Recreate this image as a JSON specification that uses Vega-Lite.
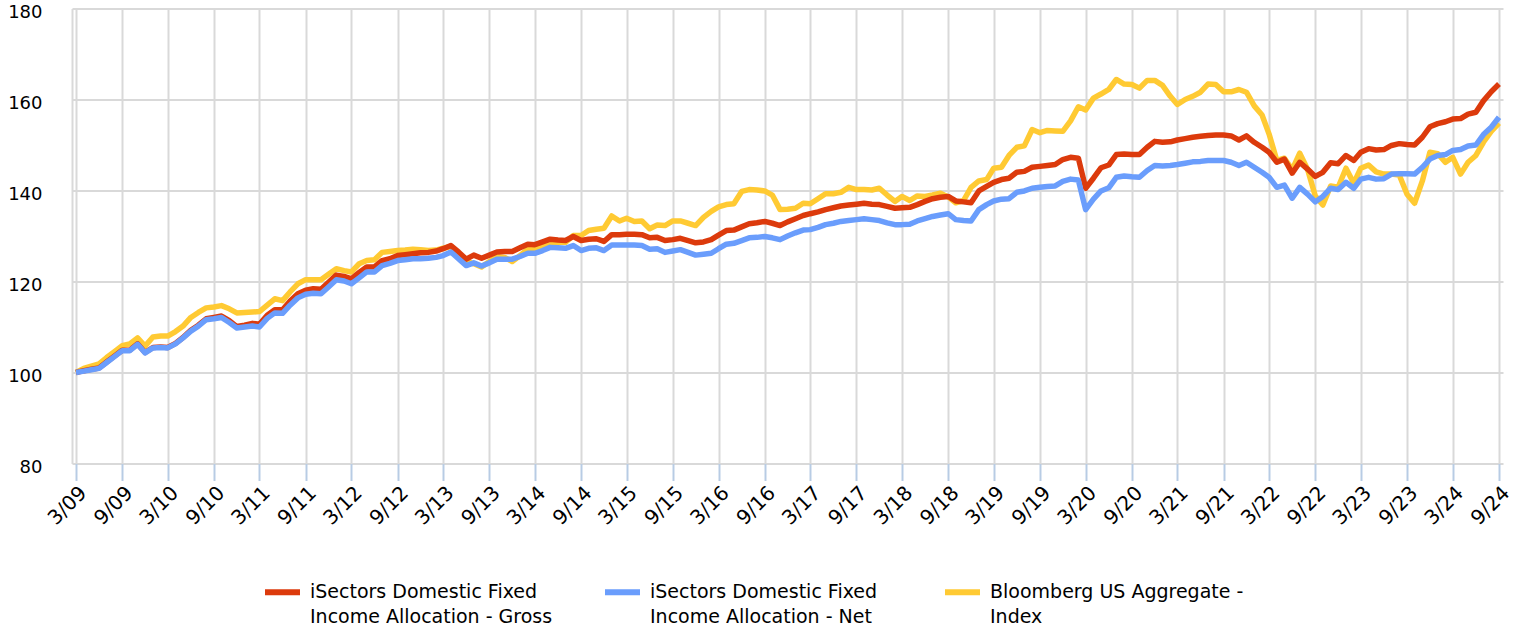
{
  "$schema": "https://vega.github.io/schema/vega-lite/v6.json",
  "width": 1431,
  "height": 455,
  "autosize": {"type": "none"},
  "padding": {"left": 72, "top": 8.5, "right": 14, "bottom": 166.5},
  "background": "white",
  "config": {"view": {"stroke": null}, "font": "DejaVu Sans"},
  "data": {"values": [
{"date":"2009-03-01","series":"Index","value":100.0},{"date":"2009-04-01","series":"Index","value":100.9},{"date":"2009-05-01","series":"Index","value":101.4},{"date":"2009-06-01","series":"Index","value":101.9},{"date":"2009-07-01","series":"Index","value":103.3},{"date":"2009-08-01","series":"Index","value":104.6},{"date":"2009-09-01","series":"Index","value":105.9},{"date":"2009-10-01","series":"Index","value":106.3},{"date":"2009-11-01","series":"Index","value":107.6},{"date":"2009-12-01","series":"Index","value":105.8},
{"date":"2010-01-01","series":"Index","value":107.8},{"date":"2010-02-01","series":"Index","value":108.0},{"date":"2010-03-01","series":"Index","value":108.0},{"date":"2010-04-01","series":"Index","value":109.0},{"date":"2010-05-01","series":"Index","value":110.2},{"date":"2010-06-01","series":"Index","value":112.1},{"date":"2010-07-01","series":"Index","value":113.2},{"date":"2010-08-01","series":"Index","value":114.2},{"date":"2010-09-01","series":"Index","value":114.4},{"date":"2010-10-01","series":"Index","value":114.7},{"date":"2010-11-01","series":"Index","value":114.0},{"date":"2010-12-01","series":"Index","value":113.1},
{"date":"2011-01-01","series":"Index","value":113.2},{"date":"2011-02-01","series":"Index","value":113.3},{"date":"2011-03-01","series":"Index","value":113.4},{"date":"2011-04-01","series":"Index","value":114.8},{"date":"2011-05-01","series":"Index","value":116.2},{"date":"2011-06-01","series":"Index","value":115.8},{"date":"2011-07-01","series":"Index","value":117.7},{"date":"2011-08-01","series":"Index","value":119.5},{"date":"2011-09-01","series":"Index","value":120.4},{"date":"2011-10-01","series":"Index","value":120.4},{"date":"2011-11-01","series":"Index","value":120.4},{"date":"2011-12-01","series":"Index","value":121.6},
{"date":"2012-01-01","series":"Index","value":122.8},{"date":"2012-02-01","series":"Index","value":122.4},{"date":"2012-03-01","series":"Index","value":122.1},{"date":"2012-04-01","series":"Index","value":123.9},{"date":"2012-05-01","series":"Index","value":124.6},{"date":"2012-06-01","series":"Index","value":124.8},{"date":"2012-07-01","series":"Index","value":126.4},{"date":"2012-08-01","series":"Index","value":126.6},{"date":"2012-09-01","series":"Index","value":126.8},{"date":"2012-10-01","series":"Index","value":126.9},{"date":"2012-11-01","series":"Index","value":127.1},{"date":"2012-12-01","series":"Index","value":127.0},
{"date":"2013-01-01","series":"Index","value":126.8},{"date":"2013-02-01","series":"Index","value":126.9},{"date":"2013-03-01","series":"Index","value":127.3},{"date":"2013-04-01","series":"Index","value":127.7},{"date":"2013-05-01","series":"Index","value":125.9},{"date":"2013-06-01","series":"Index","value":124.4},{"date":"2013-07-01","series":"Index","value":123.9},{"date":"2013-08-01","series":"Index","value":123.2},{"date":"2013-09-01","series":"Index","value":124.4},{"date":"2013-10-01","series":"Index","value":125.5},{"date":"2013-11-01","series":"Index","value":125.3},{"date":"2013-12-01","series":"Index","value":124.4},
{"date":"2014-01-01","series":"Index","value":125.7},{"date":"2014-02-01","series":"Index","value":127.1},{"date":"2014-03-01","series":"Index","value":127.1},{"date":"2014-04-01","series":"Index","value":127.9},{"date":"2014-05-01","series":"Index","value":128.7},{"date":"2014-06-01","series":"Index","value":128.6},{"date":"2014-07-01","series":"Index","value":128.6},{"date":"2014-08-01","series":"Index","value":130.1},{"date":"2014-09-01","series":"Index","value":130.1},{"date":"2014-10-01","series":"Index","value":131.2},{"date":"2014-11-01","series":"Index","value":131.5},{"date":"2014-12-01","series":"Index","value":131.7},
{"date":"2015-01-01","series":"Index","value":134.4},{"date":"2015-02-01","series":"Index","value":133.3},{"date":"2015-03-01","series":"Index","value":133.9},{"date":"2015-04-01","series":"Index","value":133.2},{"date":"2015-05-01","series":"Index","value":133.3},{"date":"2015-06-01","series":"Index","value":131.6},{"date":"2015-07-01","series":"Index","value":132.4},{"date":"2015-08-01","series":"Index","value":132.3},{"date":"2015-09-01","series":"Index","value":133.3},{"date":"2015-10-01","series":"Index","value":133.3},{"date":"2015-11-01","series":"Index","value":132.8},{"date":"2015-12-01","series":"Index","value":132.3},
{"date":"2016-01-01","series":"Index","value":134.1},{"date":"2016-02-01","series":"Index","value":135.4},{"date":"2016-03-01","series":"Index","value":136.4},{"date":"2016-04-01","series":"Index","value":136.9},{"date":"2016-05-01","series":"Index","value":137.1},{"date":"2016-06-01","series":"Index","value":139.8},{"date":"2016-07-01","series":"Index","value":140.2},{"date":"2016-08-01","series":"Index","value":140.1},{"date":"2016-09-01","series":"Index","value":139.9},{"date":"2016-10-01","series":"Index","value":139.0},{"date":"2016-11-01","series":"Index","value":135.8},{"date":"2016-12-01","series":"Index","value":135.9},
{"date":"2017-01-01","series":"Index","value":136.1},{"date":"2017-02-01","series":"Index","value":137.2},{"date":"2017-03-01","series":"Index","value":137.1},{"date":"2017-04-01","series":"Index","value":138.2},{"date":"2017-05-01","series":"Index","value":139.3},{"date":"2017-06-01","series":"Index","value":139.3},{"date":"2017-07-01","series":"Index","value":139.6},{"date":"2017-08-01","series":"Index","value":140.7},{"date":"2017-09-01","series":"Index","value":140.2},{"date":"2017-10-01","series":"Index","value":140.2},{"date":"2017-11-01","series":"Index","value":140.1},{"date":"2017-12-01","series":"Index","value":140.5},
{"date":"2018-01-01","series":"Index","value":139.0},{"date":"2018-02-01","series":"Index","value":137.6},{"date":"2018-03-01","series":"Index","value":138.7},{"date":"2018-04-01","series":"Index","value":137.8},{"date":"2018-05-01","series":"Index","value":138.8},{"date":"2018-06-01","series":"Index","value":138.7},{"date":"2018-07-01","series":"Index","value":139.0},{"date":"2018-08-01","series":"Index","value":139.4},{"date":"2018-09-01","series":"Index","value":138.6},{"date":"2018-10-01","series":"Index","value":137.3},{"date":"2018-11-01","series":"Index","value":137.8},{"date":"2018-12-01","series":"Index","value":140.7},
{"date":"2019-01-01","series":"Index","value":142.1},{"date":"2019-02-01","series":"Index","value":142.4},{"date":"2019-03-01","series":"Index","value":144.9},{"date":"2019-04-01","series":"Index","value":145.1},{"date":"2019-05-01","series":"Index","value":147.7},{"date":"2019-06-01","series":"Index","value":149.5},{"date":"2019-07-01","series":"Index","value":149.8},{"date":"2019-08-01","series":"Index","value":153.4},{"date":"2019-09-01","series":"Index","value":152.7},{"date":"2019-10-01","series":"Index","value":153.2},{"date":"2019-11-01","series":"Index","value":153.1},{"date":"2019-12-01","series":"Index","value":153.0},
{"date":"2020-01-01","series":"Index","value":155.3},{"date":"2020-02-01","series":"Index","value":158.4},{"date":"2020-03-01","series":"Index","value":157.7},{"date":"2020-04-01","series":"Index","value":160.3},{"date":"2020-05-01","series":"Index","value":161.2},{"date":"2020-06-01","series":"Index","value":162.2},{"date":"2020-07-01","series":"Index","value":164.4},{"date":"2020-08-01","series":"Index","value":163.4},{"date":"2020-09-01","series":"Index","value":163.3},{"date":"2020-10-01","series":"Index","value":162.5},{"date":"2020-11-01","series":"Index","value":164.2},{"date":"2020-12-01","series":"Index","value":164.2},
{"date":"2021-01-01","series":"Index","value":163.1},{"date":"2021-02-01","series":"Index","value":160.7},{"date":"2021-03-01","series":"Index","value":158.9},{"date":"2021-04-01","series":"Index","value":160.0},{"date":"2021-05-01","series":"Index","value":160.7},{"date":"2021-06-01","series":"Index","value":161.6},{"date":"2021-07-01","series":"Index","value":163.4},{"date":"2021-08-01","series":"Index","value":163.3},{"date":"2021-09-01","series":"Index","value":161.7},{"date":"2021-10-01","series":"Index","value":161.7},{"date":"2021-11-01","series":"Index","value":162.2},{"date":"2021-12-01","series":"Index","value":161.6},
{"date":"2022-01-01","series":"Index","value":158.6},{"date":"2022-02-01","series":"Index","value":156.6},{"date":"2022-03-01","series":"Index","value":152.4},{"date":"2022-04-01","series":"Index","value":146.6},{"date":"2022-05-01","series":"Index","value":147.1},{"date":"2022-06-01","series":"Index","value":144.6},{"date":"2022-07-01","series":"Index","value":148.2},{"date":"2022-08-01","series":"Index","value":144.7},{"date":"2022-09-01","series":"Index","value":138.8},{"date":"2022-10-01","series":"Index","value":136.8},{"date":"2022-11-01","series":"Index","value":141.0},{"date":"2022-12-01","series":"Index","value":140.7},
{"date":"2023-01-01","series":"Index","value":144.9},{"date":"2023-02-01","series":"Index","value":141.6},{"date":"2023-03-01","series":"Index","value":144.9},{"date":"2023-04-01","series":"Index","value":145.6},{"date":"2023-05-01","series":"Index","value":144.1},{"date":"2023-06-01","series":"Index","value":143.6},{"date":"2023-07-01","series":"Index","value":143.6},{"date":"2023-08-01","series":"Index","value":143.4},{"date":"2023-09-01","series":"Index","value":139.2},{"date":"2023-10-01","series":"Index","value":137.2},{"date":"2023-11-01","series":"Index","value":142.1},{"date":"2023-12-01","series":"Index","value":148.4},
{"date":"2024-01-01","series":"Index","value":148.1},{"date":"2024-02-01","series":"Index","value":146.2},{"date":"2024-03-01","series":"Index","value":147.3},{"date":"2024-04-01","series":"Index","value":143.6},{"date":"2024-05-01","series":"Index","value":146.2},{"date":"2024-06-01","series":"Index","value":147.7},{"date":"2024-07-01","series":"Index","value":150.6},{"date":"2024-08-01","series":"Index","value":153.0},{"date":"2024-09-01","series":"Index","value":154.8},
{"date":"2009-03-01","series":"Gross","value":100.0},{"date":"2009-04-01","series":"Gross","value":100.4},{"date":"2009-05-01","series":"Gross","value":100.7},{"date":"2009-06-01","series":"Gross","value":101.0},{"date":"2009-07-01","series":"Gross","value":102.3},{"date":"2009-08-01","series":"Gross","value":103.6},{"date":"2009-09-01","series":"Gross","value":104.9},{"date":"2009-10-01","series":"Gross","value":104.9},{"date":"2009-11-01","series":"Gross","value":106.3},{"date":"2009-12-01","series":"Gross","value":104.4},
{"date":"2010-01-01","series":"Gross","value":105.5},{"date":"2010-02-01","series":"Gross","value":105.6},{"date":"2010-03-01","series":"Gross","value":105.5},{"date":"2010-04-01","series":"Gross","value":106.4},{"date":"2010-05-01","series":"Gross","value":107.7},{"date":"2010-06-01","series":"Gross","value":109.3},{"date":"2010-07-01","series":"Gross","value":110.4},{"date":"2010-08-01","series":"Gross","value":111.8},{"date":"2010-09-01","series":"Gross","value":112.1},{"date":"2010-10-01","series":"Gross","value":112.4},{"date":"2010-11-01","series":"Gross","value":111.4},{"date":"2010-12-01","series":"Gross","value":110.1},
{"date":"2011-01-01","series":"Gross","value":110.4},{"date":"2011-02-01","series":"Gross","value":110.8},{"date":"2011-03-01","series":"Gross","value":110.6},{"date":"2011-04-01","series":"Gross","value":112.6},{"date":"2011-05-01","series":"Gross","value":113.8},{"date":"2011-06-01","series":"Gross","value":113.8},{"date":"2011-07-01","series":"Gross","value":115.7},{"date":"2011-08-01","series":"Gross","value":117.3},{"date":"2011-09-01","series":"Gross","value":118.1},{"date":"2011-10-01","series":"Gross","value":118.4},{"date":"2011-11-01","series":"Gross","value":118.3},{"date":"2011-12-01","series":"Gross","value":119.8},
{"date":"2012-01-01","series":"Gross","value":121.4},{"date":"2012-02-01","series":"Gross","value":121.1},{"date":"2012-03-01","series":"Gross","value":120.6},{"date":"2012-04-01","series":"Gross","value":122.0},{"date":"2012-05-01","series":"Gross","value":123.2},{"date":"2012-06-01","series":"Gross","value":123.2},{"date":"2012-07-01","series":"Gross","value":124.6},{"date":"2012-08-01","series":"Gross","value":125.0},{"date":"2012-09-01","series":"Gross","value":125.7},{"date":"2012-10-01","series":"Gross","value":125.9},{"date":"2012-11-01","series":"Gross","value":126.1},{"date":"2012-12-01","series":"Gross","value":126.3},
{"date":"2013-01-01","series":"Gross","value":126.4},{"date":"2013-02-01","series":"Gross","value":126.7},{"date":"2013-03-01","series":"Gross","value":127.2},{"date":"2013-04-01","series":"Gross","value":127.9},{"date":"2013-05-01","series":"Gross","value":126.5},{"date":"2013-06-01","series":"Gross","value":124.9},{"date":"2013-07-01","series":"Gross","value":125.8},{"date":"2013-08-01","series":"Gross","value":125.1},{"date":"2013-09-01","series":"Gross","value":125.8},{"date":"2013-10-01","series":"Gross","value":126.5},{"date":"2013-11-01","series":"Gross","value":126.6},{"date":"2013-12-01","series":"Gross","value":126.6},
{"date":"2014-01-01","series":"Gross","value":127.4},{"date":"2014-02-01","series":"Gross","value":128.2},{"date":"2014-03-01","series":"Gross","value":128.1},{"date":"2014-04-01","series":"Gross","value":128.7},{"date":"2014-05-01","series":"Gross","value":129.3},{"date":"2014-06-01","series":"Gross","value":129.1},{"date":"2014-07-01","series":"Gross","value":129.0},{"date":"2014-08-01","series":"Gross","value":129.9},{"date":"2014-09-01","series":"Gross","value":129.0},{"date":"2014-10-01","series":"Gross","value":129.3},{"date":"2014-11-01","series":"Gross","value":129.4},{"date":"2014-12-01","series":"Gross","value":128.8},
{"date":"2015-01-01","series":"Gross","value":130.3},{"date":"2015-02-01","series":"Gross","value":130.3},{"date":"2015-03-01","series":"Gross","value":130.4},{"date":"2015-04-01","series":"Gross","value":130.4},{"date":"2015-05-01","series":"Gross","value":130.3},{"date":"2015-06-01","series":"Gross","value":129.6},{"date":"2015-07-01","series":"Gross","value":129.7},{"date":"2015-08-01","series":"Gross","value":129.0},{"date":"2015-09-01","series":"Gross","value":129.2},{"date":"2015-10-01","series":"Gross","value":129.5},{"date":"2015-11-01","series":"Gross","value":129.0},{"date":"2015-12-01","series":"Gross","value":128.5},
{"date":"2016-01-01","series":"Gross","value":128.7},{"date":"2016-02-01","series":"Gross","value":129.2},{"date":"2016-03-01","series":"Gross","value":130.2},{"date":"2016-04-01","series":"Gross","value":131.2},{"date":"2016-05-01","series":"Gross","value":131.3},{"date":"2016-06-01","series":"Gross","value":132.0},{"date":"2016-07-01","series":"Gross","value":132.7},{"date":"2016-08-01","series":"Gross","value":132.9},{"date":"2016-09-01","series":"Gross","value":133.2},{"date":"2016-10-01","series":"Gross","value":132.8},{"date":"2016-11-01","series":"Gross","value":132.3},{"date":"2016-12-01","series":"Gross","value":133.1},
{"date":"2017-01-01","series":"Gross","value":133.8},{"date":"2017-02-01","series":"Gross","value":134.5},{"date":"2017-03-01","series":"Gross","value":134.9},{"date":"2017-04-01","series":"Gross","value":135.3},{"date":"2017-05-01","series":"Gross","value":135.8},{"date":"2017-06-01","series":"Gross","value":136.2},{"date":"2017-07-01","series":"Gross","value":136.6},{"date":"2017-08-01","series":"Gross","value":136.8},{"date":"2017-09-01","series":"Gross","value":137.0},{"date":"2017-10-01","series":"Gross","value":137.2},{"date":"2017-11-01","series":"Gross","value":137.0},{"date":"2017-12-01","series":"Gross","value":136.9},
{"date":"2018-01-01","series":"Gross","value":136.5},{"date":"2018-02-01","series":"Gross","value":136.1},{"date":"2018-03-01","series":"Gross","value":136.2},{"date":"2018-04-01","series":"Gross","value":136.3},{"date":"2018-05-01","series":"Gross","value":136.9},{"date":"2018-06-01","series":"Gross","value":137.6},{"date":"2018-07-01","series":"Gross","value":138.2},{"date":"2018-08-01","series":"Gross","value":138.5},{"date":"2018-09-01","series":"Gross","value":138.7},{"date":"2018-10-01","series":"Gross","value":137.7},{"date":"2018-11-01","series":"Gross","value":137.5},{"date":"2018-12-01","series":"Gross","value":137.3},
{"date":"2019-01-01","series":"Gross","value":139.9},{"date":"2019-02-01","series":"Gross","value":140.9},{"date":"2019-03-01","series":"Gross","value":141.8},{"date":"2019-04-01","series":"Gross","value":142.4},{"date":"2019-05-01","series":"Gross","value":142.7},{"date":"2019-06-01","series":"Gross","value":144.0},{"date":"2019-07-01","series":"Gross","value":144.2},{"date":"2019-08-01","series":"Gross","value":145.1},{"date":"2019-09-01","series":"Gross","value":145.3},{"date":"2019-10-01","series":"Gross","value":145.5},{"date":"2019-11-01","series":"Gross","value":145.7},{"date":"2019-12-01","series":"Gross","value":146.8},
{"date":"2020-01-01","series":"Gross","value":147.3},{"date":"2020-02-01","series":"Gross","value":147.1},{"date":"2020-03-01","series":"Gross","value":140.5},{"date":"2020-04-01","series":"Gross","value":142.7},{"date":"2020-05-01","series":"Gross","value":145.0},{"date":"2020-06-01","series":"Gross","value":145.6},{"date":"2020-07-01","series":"Gross","value":147.9},{"date":"2020-08-01","series":"Gross","value":148.0},{"date":"2020-09-01","series":"Gross","value":147.9},{"date":"2020-10-01","series":"Gross","value":147.9},{"date":"2020-11-01","series":"Gross","value":149.5},{"date":"2020-12-01","series":"Gross","value":150.8},
{"date":"2021-01-01","series":"Gross","value":150.6},{"date":"2021-02-01","series":"Gross","value":150.7},{"date":"2021-03-01","series":"Gross","value":151.1},{"date":"2021-04-01","series":"Gross","value":151.4},{"date":"2021-05-01","series":"Gross","value":151.7},{"date":"2021-06-01","series":"Gross","value":151.9},{"date":"2021-07-01","series":"Gross","value":152.1},{"date":"2021-08-01","series":"Gross","value":152.2},{"date":"2021-09-01","series":"Gross","value":152.2},{"date":"2021-10-01","series":"Gross","value":152.0},{"date":"2021-11-01","series":"Gross","value":151.1},{"date":"2021-12-01","series":"Gross","value":152.0},
{"date":"2022-01-01","series":"Gross","value":150.6},{"date":"2022-02-01","series":"Gross","value":149.5},{"date":"2022-03-01","series":"Gross","value":148.4},{"date":"2022-04-01","series":"Gross","value":146.2},{"date":"2022-05-01","series":"Gross","value":146.9},{"date":"2022-06-01","series":"Gross","value":143.8},{"date":"2022-07-01","series":"Gross","value":146.2},{"date":"2022-08-01","series":"Gross","value":144.7},{"date":"2022-09-01","series":"Gross","value":143.1},{"date":"2022-10-01","series":"Gross","value":144.0},{"date":"2022-11-01","series":"Gross","value":146.1},{"date":"2022-12-01","series":"Gross","value":145.9},
{"date":"2023-01-01","series":"Gross","value":147.7},{"date":"2023-02-01","series":"Gross","value":146.6},{"date":"2023-03-01","series":"Gross","value":148.4},{"date":"2023-04-01","series":"Gross","value":149.2},{"date":"2023-05-01","series":"Gross","value":148.9},{"date":"2023-06-01","series":"Gross","value":149.0},{"date":"2023-07-01","series":"Gross","value":149.9},{"date":"2023-08-01","series":"Gross","value":150.3},{"date":"2023-09-01","series":"Gross","value":150.1},{"date":"2023-10-01","series":"Gross","value":150.0},{"date":"2023-11-01","series":"Gross","value":151.7},{"date":"2023-12-01","series":"Gross","value":154.0},
{"date":"2024-01-01","series":"Gross","value":154.7},{"date":"2024-02-01","series":"Gross","value":155.1},{"date":"2024-03-01","series":"Gross","value":155.7},{"date":"2024-04-01","series":"Gross","value":155.8},{"date":"2024-05-01","series":"Gross","value":156.8},{"date":"2024-06-01","series":"Gross","value":157.2},{"date":"2024-07-01","series":"Gross","value":159.7},{"date":"2024-08-01","series":"Gross","value":161.7},{"date":"2024-09-01","series":"Gross","value":163.4},
{"date":"2009-03-01","series":"Net","value":100.0},{"date":"2009-04-01","series":"Net","value":100.3},{"date":"2009-05-01","series":"Net","value":100.6},{"date":"2009-06-01","series":"Net","value":100.9},{"date":"2009-07-01","series":"Net","value":102.2},{"date":"2009-08-01","series":"Net","value":103.5},{"date":"2009-09-01","series":"Net","value":104.8},{"date":"2009-10-01","series":"Net","value":104.8},{"date":"2009-11-01","series":"Net","value":106.2},{"date":"2009-12-01","series":"Net","value":104.3},
{"date":"2010-01-01","series":"Net","value":105.4},{"date":"2010-02-01","series":"Net","value":105.5},{"date":"2010-03-01","series":"Net","value":105.4},{"date":"2010-04-01","series":"Net","value":106.3},{"date":"2010-05-01","series":"Net","value":107.6},{"date":"2010-06-01","series":"Net","value":109.1},{"date":"2010-07-01","series":"Net","value":110.2},{"date":"2010-08-01","series":"Net","value":111.6},{"date":"2010-09-01","series":"Net","value":111.8},{"date":"2010-10-01","series":"Net","value":112.1},{"date":"2010-11-01","series":"Net","value":111.0},{"date":"2010-12-01","series":"Net","value":109.8},
{"date":"2011-01-01","series":"Net","value":110.0},{"date":"2011-02-01","series":"Net","value":110.2},{"date":"2011-03-01","series":"Net","value":110.0},{"date":"2011-04-01","series":"Net","value":111.9},{"date":"2011-05-01","series":"Net","value":113.1},{"date":"2011-06-01","series":"Net","value":113.0},{"date":"2011-07-01","series":"Net","value":114.8},{"date":"2011-08-01","series":"Net","value":116.4},{"date":"2011-09-01","series":"Net","value":117.2},{"date":"2011-10-01","series":"Net","value":117.4},{"date":"2011-11-01","series":"Net","value":117.3},{"date":"2011-12-01","series":"Net","value":118.8},
{"date":"2012-01-01","series":"Net","value":120.4},{"date":"2012-02-01","series":"Net","value":120.1},{"date":"2012-03-01","series":"Net","value":119.5},{"date":"2012-04-01","series":"Net","value":120.8},{"date":"2012-05-01","series":"Net","value":122.1},{"date":"2012-06-01","series":"Net","value":122.1},{"date":"2012-07-01","series":"Net","value":123.5},{"date":"2012-08-01","series":"Net","value":124.0},{"date":"2012-09-01","series":"Net","value":124.6},{"date":"2012-10-01","series":"Net","value":124.8},{"date":"2012-11-01","series":"Net","value":125.0},{"date":"2012-12-01","series":"Net","value":125.0},
{"date":"2013-01-01","series":"Net","value":125.1},{"date":"2013-02-01","series":"Net","value":125.3},{"date":"2013-03-01","series":"Net","value":125.7},{"date":"2013-04-01","series":"Net","value":126.5},{"date":"2013-05-01","series":"Net","value":125.0},{"date":"2013-06-01","series":"Net","value":123.5},{"date":"2013-07-01","series":"Net","value":124.1},{"date":"2013-08-01","series":"Net","value":123.4},{"date":"2013-09-01","series":"Net","value":124.1},{"date":"2013-10-01","series":"Net","value":124.9},{"date":"2013-11-01","series":"Net","value":124.9},{"date":"2013-12-01","series":"Net","value":124.9},
{"date":"2014-01-01","series":"Net","value":125.5},{"date":"2014-02-01","series":"Net","value":126.2},{"date":"2014-03-01","series":"Net","value":126.2},{"date":"2014-04-01","series":"Net","value":126.8},{"date":"2014-05-01","series":"Net","value":127.5},{"date":"2014-06-01","series":"Net","value":127.4},{"date":"2014-07-01","series":"Net","value":127.3},{"date":"2014-08-01","series":"Net","value":127.9},{"date":"2014-09-01","series":"Net","value":126.8},{"date":"2014-10-01","series":"Net","value":127.3},{"date":"2014-11-01","series":"Net","value":127.4},{"date":"2014-12-01","series":"Net","value":126.8},
{"date":"2015-01-01","series":"Net","value":128.0},{"date":"2015-02-01","series":"Net","value":128.0},{"date":"2015-03-01","series":"Net","value":128.0},{"date":"2015-04-01","series":"Net","value":128.0},{"date":"2015-05-01","series":"Net","value":127.9},{"date":"2015-06-01","series":"Net","value":127.1},{"date":"2015-07-01","series":"Net","value":127.2},{"date":"2015-08-01","series":"Net","value":126.4},{"date":"2015-09-01","series":"Net","value":126.7},{"date":"2015-10-01","series":"Net","value":127.0},{"date":"2015-11-01","series":"Net","value":126.4},{"date":"2015-12-01","series":"Net","value":125.8},
{"date":"2016-01-01","series":"Net","value":126.0},{"date":"2016-02-01","series":"Net","value":126.2},{"date":"2016-03-01","series":"Net","value":127.2},{"date":"2016-04-01","series":"Net","value":128.2},{"date":"2016-05-01","series":"Net","value":128.4},{"date":"2016-06-01","series":"Net","value":129.0},{"date":"2016-07-01","series":"Net","value":129.6},{"date":"2016-08-01","series":"Net","value":129.7},{"date":"2016-09-01","series":"Net","value":129.9},{"date":"2016-10-01","series":"Net","value":129.6},{"date":"2016-11-01","series":"Net","value":129.2},{"date":"2016-12-01","series":"Net","value":130.0},
{"date":"2017-01-01","series":"Net","value":130.7},{"date":"2017-02-01","series":"Net","value":131.3},{"date":"2017-03-01","series":"Net","value":131.4},{"date":"2017-04-01","series":"Net","value":131.9},{"date":"2017-05-01","series":"Net","value":132.5},{"date":"2017-06-01","series":"Net","value":132.8},{"date":"2017-07-01","series":"Net","value":133.2},{"date":"2017-08-01","series":"Net","value":133.4},{"date":"2017-09-01","series":"Net","value":133.6},{"date":"2017-10-01","series":"Net","value":133.8},{"date":"2017-11-01","series":"Net","value":133.6},{"date":"2017-12-01","series":"Net","value":133.4},
{"date":"2018-01-01","series":"Net","value":132.9},{"date":"2018-02-01","series":"Net","value":132.5},{"date":"2018-03-01","series":"Net","value":132.5},{"date":"2018-04-01","series":"Net","value":132.6},{"date":"2018-05-01","series":"Net","value":133.3},{"date":"2018-06-01","series":"Net","value":133.8},{"date":"2018-07-01","series":"Net","value":134.3},{"date":"2018-08-01","series":"Net","value":134.6},{"date":"2018-09-01","series":"Net","value":134.9},{"date":"2018-10-01","series":"Net","value":133.6},{"date":"2018-11-01","series":"Net","value":133.4},{"date":"2018-12-01","series":"Net","value":133.3},
{"date":"2019-01-01","series":"Net","value":135.8},{"date":"2019-02-01","series":"Net","value":136.9},{"date":"2019-03-01","series":"Net","value":137.7},{"date":"2019-04-01","series":"Net","value":138.1},{"date":"2019-05-01","series":"Net","value":138.2},{"date":"2019-06-01","series":"Net","value":139.6},{"date":"2019-07-01","series":"Net","value":139.9},{"date":"2019-08-01","series":"Net","value":140.5},{"date":"2019-09-01","series":"Net","value":140.7},{"date":"2019-10-01","series":"Net","value":140.9},{"date":"2019-11-01","series":"Net","value":141.0},{"date":"2019-12-01","series":"Net","value":142.0},
{"date":"2020-01-01","series":"Net","value":142.5},{"date":"2020-02-01","series":"Net","value":142.3},{"date":"2020-03-01","series":"Net","value":135.8},{"date":"2020-04-01","series":"Net","value":138.1},{"date":"2020-05-01","series":"Net","value":139.9},{"date":"2020-06-01","series":"Net","value":140.6},{"date":"2020-07-01","series":"Net","value":142.9},{"date":"2020-08-01","series":"Net","value":143.2},{"date":"2020-09-01","series":"Net","value":143.0},{"date":"2020-10-01","series":"Net","value":142.9},{"date":"2020-11-01","series":"Net","value":144.4},{"date":"2020-12-01","series":"Net","value":145.5},
{"date":"2021-01-01","series":"Net","value":145.4},{"date":"2021-02-01","series":"Net","value":145.5},{"date":"2021-03-01","series":"Net","value":145.7},{"date":"2021-04-01","series":"Net","value":146.0},{"date":"2021-05-01","series":"Net","value":146.3},{"date":"2021-06-01","series":"Net","value":146.4},{"date":"2021-07-01","series":"Net","value":146.6},{"date":"2021-08-01","series":"Net","value":146.6},{"date":"2021-09-01","series":"Net","value":146.6},{"date":"2021-10-01","series":"Net","value":146.2},{"date":"2021-11-01","series":"Net","value":145.5},{"date":"2021-12-01","series":"Net","value":146.2},
{"date":"2022-01-01","series":"Net","value":145.1},{"date":"2022-02-01","series":"Net","value":144.0},{"date":"2022-03-01","series":"Net","value":142.9},{"date":"2022-04-01","series":"Net","value":140.7},{"date":"2022-05-01","series":"Net","value":141.2},{"date":"2022-06-01","series":"Net","value":138.3},{"date":"2022-07-01","series":"Net","value":140.7},{"date":"2022-08-01","series":"Net","value":139.2},{"date":"2022-09-01","series":"Net","value":137.5},{"date":"2022-10-01","series":"Net","value":138.7},{"date":"2022-11-01","series":"Net","value":140.5},{"date":"2022-12-01","series":"Net","value":140.2},
{"date":"2023-01-01","series":"Net","value":141.8},{"date":"2023-02-01","series":"Net","value":140.5},{"date":"2023-03-01","series":"Net","value":142.5},{"date":"2023-04-01","series":"Net","value":142.9},{"date":"2023-05-01","series":"Net","value":142.5},{"date":"2023-06-01","series":"Net","value":142.6},{"date":"2023-07-01","series":"Net","value":143.6},{"date":"2023-08-01","series":"Net","value":143.7},{"date":"2023-09-01","series":"Net","value":143.7},{"date":"2023-10-01","series":"Net","value":143.6},{"date":"2023-11-01","series":"Net","value":145.1},{"date":"2023-12-01","series":"Net","value":146.9},
{"date":"2024-01-01","series":"Net","value":147.7},{"date":"2024-02-01","series":"Net","value":147.9},{"date":"2024-03-01","series":"Net","value":148.8},{"date":"2024-04-01","series":"Net","value":149.0},{"date":"2024-05-01","series":"Net","value":149.8},{"date":"2024-06-01","series":"Net","value":150.0},{"date":"2024-07-01","series":"Net","value":152.3},{"date":"2024-08-01","series":"Net","value":153.9},{"date":"2024-09-01","series":"Net","value":156.1}
  ]},
  "mark": {"type": "line", "strokeWidth": 5.5, "strokeJoin": "round"},
  "encoding": {
    "x": {
      "field": "date", "type": "temporal",
      "scale": {"type": "utc", "padding": 4, "nice": false},
      "axis": {
        "title": null,
        "values": [
          {"year":2009,"month":3,"date":1,"utc":true},{"year":2009,"month":9,"date":1,"utc":true},
          {"year":2010,"month":3,"date":1,"utc":true},{"year":2010,"month":9,"date":1,"utc":true},
          {"year":2011,"month":3,"date":1,"utc":true},{"year":2011,"month":9,"date":1,"utc":true},
          {"year":2012,"month":3,"date":1,"utc":true},{"year":2012,"month":9,"date":1,"utc":true},
          {"year":2013,"month":3,"date":1,"utc":true},{"year":2013,"month":9,"date":1,"utc":true},
          {"year":2014,"month":3,"date":1,"utc":true},{"year":2014,"month":9,"date":1,"utc":true},
          {"year":2015,"month":3,"date":1,"utc":true},{"year":2015,"month":9,"date":1,"utc":true},
          {"year":2016,"month":3,"date":1,"utc":true},{"year":2016,"month":9,"date":1,"utc":true},
          {"year":2017,"month":3,"date":1,"utc":true},{"year":2017,"month":9,"date":1,"utc":true},
          {"year":2018,"month":3,"date":1,"utc":true},{"year":2018,"month":9,"date":1,"utc":true},
          {"year":2019,"month":3,"date":1,"utc":true},{"year":2019,"month":9,"date":1,"utc":true},
          {"year":2020,"month":3,"date":1,"utc":true},{"year":2020,"month":9,"date":1,"utc":true},
          {"year":2021,"month":3,"date":1,"utc":true},{"year":2021,"month":9,"date":1,"utc":true},
          {"year":2022,"month":3,"date":1,"utc":true},{"year":2022,"month":9,"date":1,"utc":true},
          {"year":2023,"month":3,"date":1,"utc":true},{"year":2023,"month":9,"date":1,"utc":true},
          {"year":2024,"month":3,"date":1,"utc":true},{"year":2024,"month":9,"date":1,"utc":true}
        ],
        "labelExpr": "utcFormat(datum.value, '%-m/%y')",
        "labelAngle": -45,
        "labelFontSize": 20,
        "labelColor": "#000000",
        "labelPadding": 2,
        "labelFlush": false,
        "labelOverlap": false,
        "tickColor": "#b8cce4",
        "tickSize": 17,
        "tickWidth": 2,
        "domain": false,
        "grid": true,
        "gridColor": "#d9d9d9",
        "gridWidth": 2
      }
    },
    "y": {
      "field": "value", "type": "quantitative",
      "scale": {"domain": [80, 180], "nice": false, "zero": false},
      "axis": {
        "title": null,
        "values": [80, 100, 120, 140, 160, 180],
        "labelFontSize": 18,
        "labelColor": "#000000",
        "labelOffset": 4,
        "ticks": false,
        "labelPadding": 30,
        "domain": true,
        "domainColor": "#d9d9d9",
        "domainWidth": 2,
        "grid": true,
        "gridColor": "#d9d9d9",
        "gridWidth": 2
      }
    },
    "color": {
      "field": "series", "type": "nominal",
      "scale": {"domain": ["Gross", "Net", "Index"], "range": ["#dc3a0c", "#6a9dfc", "#ffca33"]},
      "legend": {
        "title": null,
        "orient": "none",
        "legendX": 190,
        "legendY": 563,
        "direction": "horizontal",
        "columns": 3,
        "gridAlign": "all",
        "columnPadding": 29,
        "symbolType": "stroke",
        "symbolSize": 1225,
        "symbolStrokeWidth": 6,
        "labelFontSize": 19,
        "labelColor": "#000000",
        "labelLimit": 500,
        "labelOffset": 7,
        "labelExpr": "datum.label == 'Gross' ? ['iSectors Domestic Fixed', 'Income Allocation - Gross'] : datum.label == 'Net' ? ['iSectors Domestic Fixed', 'Income Allocation - Net'] : ['Bloomberg US Aggregate -', 'Index']",
        "encode": {"labels": {"update": {"lineHeight": {"value": 25}}}}
      }
    }
  }
}
